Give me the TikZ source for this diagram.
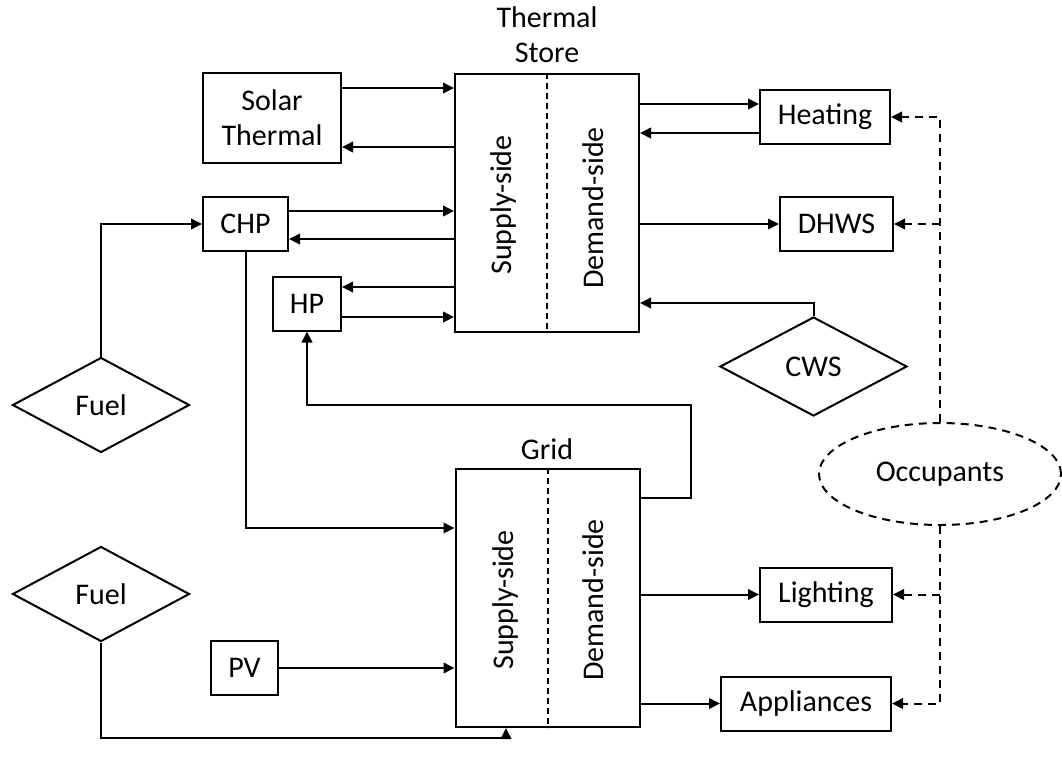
\documentclass[tikz,border=0pt]{standalone}
\usepackage{fontspec}
\setmainfont{Carlito}
\usetikzlibrary{arrows.meta, positioning, calc, shapes.geometric}

\begin{document}
\begin{tikzpicture}[
    x=0.4pt, y=-0.4pt, >={Triangle[length=4.4pt, width=4.2pt]},
    line width=0.8pt,
    every node/.style={font=\fontsize{12}{14}\selectfont},
    box/.style={draw, inner sep=0pt, minimum height=21.6pt},
    source/.style={draw, diamond, inner sep=0pt, minimum width=70.8pt, minimum height=38pt},
    store/.style={draw, inner sep=0pt, minimum width=73.6pt, minimum height=103.2pt},
    flow/.style={->},
    dsh/.style={dash pattern=on 3.2pt off 2.4pt},
    occlink/.style={->, dsh},
]
    \useasboundingbox (0,0) rectangle (1062,776);

    % thermal store and grid
    \node[store] (ts) at (547,203) {};
    \draw[dash pattern=on 2.4pt off 1.6pt] (ts.north) -- (ts.south);
    \node[rotate=90] (tssup) at (503,205) {Supply-side};
    \node[rotate=90] (tsdem) at (593,208) {Demand-side};
    \node[align=center] (tslabel) at (547,35) {Thermal\\Store};

    \node[store] (gd) at (547.5,598) {};
    \draw[dash pattern=on 2.4pt off 1.6pt] (gd.north) -- (gd.south);
    \node[rotate=90] (gdsup) at (505,600) {Supply-side};
    \node[rotate=90] (gddem) at (593,600) {Demand-side};
    \node[anchor=base] (gdlabel) at (547,459) {Grid};

    % supply
    \node[box, minimum width=55.2pt, minimum height=36pt, align=center] (solar) at (272,118) {Solar\\Thermal};
    \node[box, minimum width=34pt] (chp) at (245.5,224) {CHP};
    \node[box, minimum width=27.2pt] (hp) at (307,303.5) {HP};
    \node[box, minimum width=26.8pt] (pv) at (244.5,668) {PV};
    \node[source] (fuel1) at (101,405) {Fuel};
    \node[source] (fuel2) at (101,594) {Fuel};

    % demand
    \node[box, minimum width=52pt] (heat) at (825,117) {Heating};
    \node[box, minimum width=45.2pt] (dhws) at (836.5,224) {DHWS};
    \node[source, minimum width=74.8pt, minimum height=39.6pt] (cws) at (813.5,366.5) {CWS};
    \node[draw, ellipse, dsh, minimum width=96.8pt, minimum height=40.8pt] (occ) at (940,474) {Occupants};
    \node[box, minimum width=52.8pt] (light) at (826,594.5) {Lighting};
    \node[box, minimum width=68pt] (appl) at (806,703.5) {Appliances};

    \coordinate (fuelin) at (506,738);
    \coordinate (hpturn) at (691,405);

    % heat flows
    \draw[flow] (solar.east |- 0,88) -- (ts.west |- 0,88);
    \draw[flow] (ts.west |- 0,147) -- (solar.east |- 0,147);
    \draw[flow] (chp.east |- 0,211) -- (ts.west |- 0,211);
    \draw[flow] (ts.west |- 0,239) -- (chp.east |- 0,239);
    \draw[flow] (ts.west |- 0,287) -- (hp.east |- 0,287);
    \draw[flow] (hp.east |- 0,317) -- (ts.west |- 0,317);
    \draw[flow] (fuel1.north) |- (chp.west);
    \draw[flow] (ts.east |- 0,104) -- (heat.west |- 0,104);
    \draw[flow] (heat.west |- 0,133) -- (ts.east |- 0,133);
    \draw[flow] (ts.east |- dhws.west) -- (dhws.west);
    \draw[flow] (cws.north) |- (ts.east |- 0,303);

    % electricity flows
    \draw[flow] (chp.south) |- (gd.west |- 0,528);
    \draw[flow] (pv.east) -- (gd.west |- pv.east);
    \draw[flow] (fuel2.south) |- (fuelin) -- (fuelin |- gd.south);
    \draw[flow] (gd.east |- 0,498) -| (hpturn) -| (hp.south);
    \draw[flow] (gd.east |- light.west) -- (light.west);
    \draw[flow] (gd.east |- appl.west) -- (appl.west);

    % occupants
    \draw[occlink] (occ.north) |- (heat.east);
    \draw[occlink] (occ.north |- dhws.east) -- (dhws.east);
    \draw[occlink] (occ.south) |- (appl.east);
    \draw[occlink] (occ.south |- light.east) -- (light.east);
\end{tikzpicture}
\end{document}
